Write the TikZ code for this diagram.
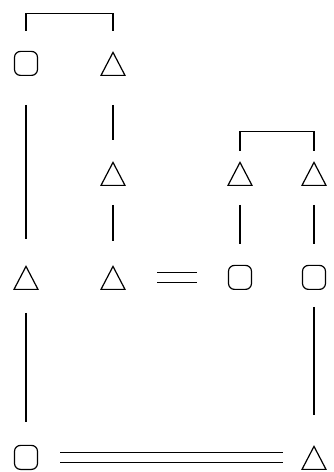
\documentclass[tikz,border=0pt]{standalone}
\usepackage{tikz}
\usetikzlibrary{shapes.geometric}

\begin{document}
\begin{tikzpicture}[x=1pt,y=1pt,line width=1.2pt,
	fem/.style={draw,rectangle,rounded corners=6pt,minimum width=23pt,minimum height=24pt,inner sep=0pt,anchor=south},
	man/.style={draw,isosceles triangle,shape border rotate=90,isosceles triangle stretches,minimum width=24pt,minimum height=23pt,inner sep=0pt,anchor=south},
	wed/.style={double,double distance=9pt}]
	\useasboundingbox (0,0) rectangle (334,472);
	
	% 第一代
	\node[fem] (mA) at (26,396) {};
	\node[man] (mB) at (113,396) {};
	% 第二代
	\node[man] (sB) at (113,286) {};
	\node[man] (sC) at (240,286) {};
	\node[man] (sD) at (314,286) {};
	% 第三代
	\node[man] (pA) at (26,182) {};
	\node[man] (pB) at (113,182) {};
	\node[fem] (pC) at (240,182) {};
	\node[fem] (pD) at (314,182) {};
	% 最下面一行
	\node[fem] (gA) at (26,2) {};
	\node[man] (gD) at (314,2) {};
	
	% 兄弟括线
	\draw ([yshift=20pt]mA.north) -- ++(0,17) -| ([yshift=20pt]mB.apex);
	\draw ([yshift=10pt]sC.apex) -- ++(0,19) -| ([yshift=10pt]sD.apex);
	
	% 竖线
	\draw[shorten <=29pt,shorten >=26pt] (mA) -- (pA);
	\draw[shorten <=29pt,shorten >=21pt] (mB) -- (sB);
	\draw[shorten <=19pt,shorten >=24pt] (sB) -- (pB);
	\draw[shorten <=19pt,shorten >=21pt] (sC) -- (pC);
	\draw[shorten <=19pt,shorten >=21pt] (sD) -- (pD);
	\draw[shorten <=23pt,shorten >=23pt] (pA) -- (gA);
	\draw[shorten <=17pt,shorten >=30pt] (pD) -- (gD);
	
	% 婚姻双线
	\draw[wed,shorten <=44pt,shorten >=43pt] (pC -| pB) -- (pC.center);
	\draw[wed,shorten <=34pt,shorten >=31pt] (gA.center) -- (gA -| gD);
\end{tikzpicture}
\end{document}
